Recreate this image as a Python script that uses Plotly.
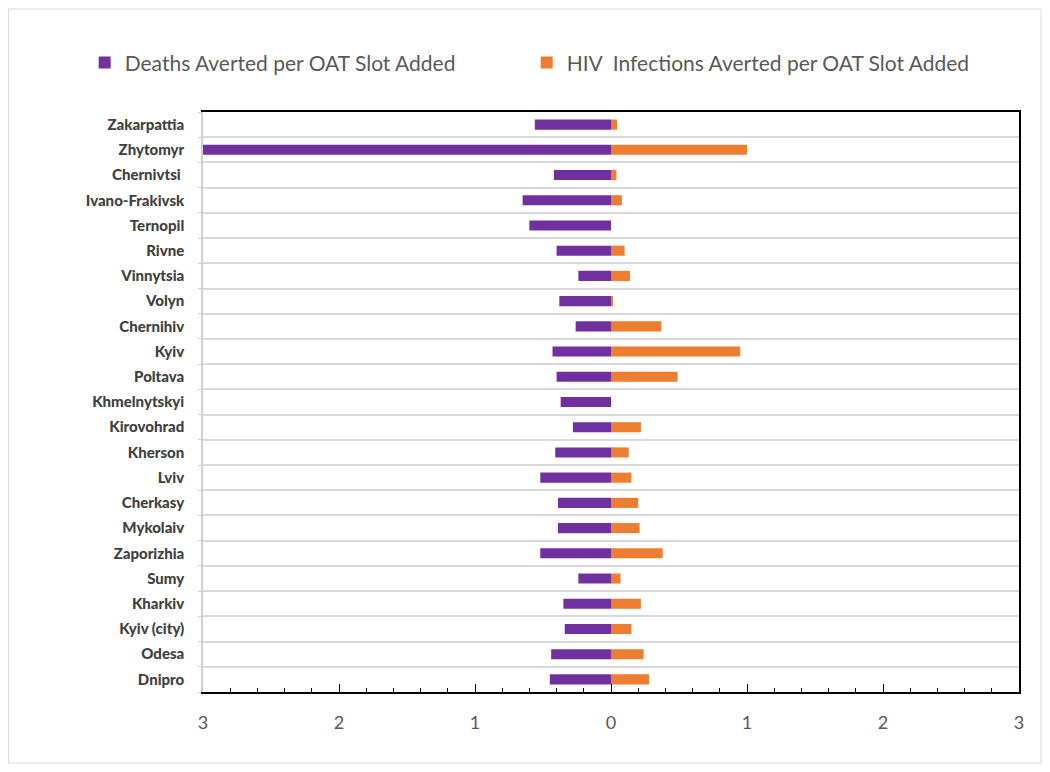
import plotly.graph_objects as go

regions = ["Zakarpattia", "Zhytomyr", "Chernivtsi ", "Ivano-Frakivsk", "Ternopil", "Rivne",
           "Vinnytsia", "Volyn", "Chernihiv", "Kyiv", "Poltava", "Khmelnytskyi", "Kirovohrad",
           "Kherson", "Lviv", "Cherkasy", "Mykolaiv", "Zaporizhia", "Sumy", "Kharkiv",
           "Kyiv (city)", "Odesa", "Dnipro"]
deaths_averted = [0.56, 3.0, 0.42, 0.65, 0.60, 0.40, 0.24, 0.38, 0.26, 0.43, 0.40, 0.37, 0.28,
                  0.41, 0.52, 0.39, 0.39, 0.52, 0.24, 0.35, 0.34, 0.44, 0.45]
hiv_averted = [0.044, 1.0, 0.04, 0.08, 0.0, 0.10, 0.14, 0.015, 0.37, 0.95, 0.49, 0.0, 0.22,
               0.13, 0.15, 0.20, 0.21, 0.38, 0.07, 0.22, 0.15, 0.24, 0.28]
x_ticks = [-3, -2, -1, 0, 1, 2, 3]
x_ticktext = ["3", "2", "1", "0", "1", "2", "3"]

pos = list(range(len(regions)))
grey = "#595959"

fig = go.Figure()
fig.add_bar(y=pos, x=[-v for v in deaths_averted], orientation="h",
            name="Deaths Averted per OAT Slot Added",
            marker=dict(color="#7030A0", line=dict(width=0)))
fig.add_bar(y=pos, x=hiv_averted, orientation="h",
            name="HIV  Infections Averted per OAT Slot Added",
            marker=dict(color="#ED7D31", line=dict(width=0)))
# invisible trace to carry the right-hand axis line
fig.add_scatter(y=pos, x=[0] * len(pos), yaxis="y2", mode="markers",
                marker=dict(opacity=0), showlegend=False, hoverinfo="skip")

fig.update_layout(
    width=1034, height=756,
    barmode="relative", bargap=0.6,
    plot_bgcolor="white", paper_bgcolor="white",
    font=dict(family="Lato", color=grey),
    margin=dict(l=195, r=23, t=104, b=72),
    legend=dict(orientation="h", x=-0.145, y=1.12, xanchor="left", yanchor="top",
                font=dict(size=21, color=grey), entrywidth=397, entrywidthmode="pixels",
                itemwidth=30),
    xaxis=dict(range=[-3, 3], tickvals=x_ticks, ticktext=x_ticktext,
               ticks="inside", ticklen=8, tickcolor="black", tickwidth=1,
               showline=True, linecolor="black", linewidth=1.5, mirror=True,
               showgrid=False, zeroline=False, tickfont=dict(size=18, color=grey),
               ticklabelstandoff=14,
               minor=dict(dtick=0.2, tick0=0, ticks="inside", ticklen=4, tickcolor="black")),
    yaxis=dict(range=[len(pos) - 0.5, -0.5], tickvals=pos, ticktext=regions,
               showgrid=False, zeroline=False, showline=True, linecolor="#D0D0D0",
               linewidth=1.5, ticks="", ticklabelstandoff=14,
               tickfont=dict(size=15, color="#404040", family="Lato Black"),
               minor=dict(tick0=0.5, dtick=1, showgrid=True, gridcolor="#D9D9D9",
                          gridwidth=1.5, ticks="outside", ticklen=3, tickcolor="#D0D0D0")),
    yaxis2=dict(overlaying="y", side="right", matches="y", showticklabels=False,
                showgrid=False, zeroline=False, showline=True, linecolor="black",
                linewidth=1.5),
    shapes=[dict(type="rect", xref="paper", yref="paper", x0=-0.2384, x1=1.027,
                 y0=-0.1224, y1=1.1776, line=dict(color="#D9D9D9", width=1), layer="below")],
)

fig.write_html("out.html")
